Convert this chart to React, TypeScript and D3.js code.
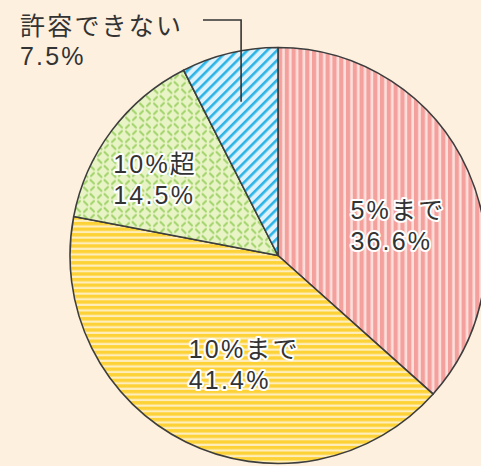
import React from "react";
import * as d3 from "d3";

const categories = ["5%まで", "10%まで", "10%超", "許容できない"];
const values = [36.6, 41.4, 14.5, 7.5];
const valueLabels = ["36.6%", "41.4%", "14.5%", "7.5%"];
const patternIds = ["pRed", "pYellow", "pGreen", "pBlue"];

const W = 481;
const H = 466;
const cx = 278;
const cy = 255.5;
const R = 208;

const FONT = "'Liberation Sans', Arial, 'Noto Sans CJK JP', sans-serif";

export default function App() {
  const pie = d3.pie<number>().sort(null).startAngle(0).endAngle(2 * Math.PI);
  const arcs = pie(values);
  const arc = d3.arc<d3.PieArcDatum<number>>().innerRadius(0).outerRadius(R);

  // label layout: radius factor and offset of text block from centroid
  const labelLayout = [
    { rf: 0.55, dx: -32, dy: 10 },
    { rf: 0.6, dx: -34, dy: -9 },
    { rf: 0.6, dx: -65, dy: -8 },
  ];

  const textStyle: React.CSSProperties = {
    fontFamily: FONT,
    fontSize: 25,
    letterSpacing: 2.2,
    fill: "#333",
  };

  const blue = arcs[3];
  const blueMid = (blue.startAngle + blue.endAngle) / 2;
  const lineR = R * 0.76;
  const lx = cx + lineR * Math.sin(blueMid);
  const ly = cy - lineR * Math.cos(blueMid);

  return (
    <svg
      width={W}
      height={H}
      style={{ position: "absolute", left: 0, top: 0, display: "block" }}
    >
      <defs>
        <pattern id="pRed" patternUnits="userSpaceOnUse" width={6.8} height={10}>
          <rect width={6.8} height={10} fill="#fde0dc" />
          <rect x={0} width={4.2} height={10} fill="#f4a19e" />
        </pattern>
        <pattern id="pYellow" patternUnits="userSpaceOnUse" width={10} height={5.6}>
          <rect width={10} height={5.6} fill="#feeebe" />
          <rect y={0} width={10} height={3.4} fill="#fdd237" />
        </pattern>
        <pattern
          id="pBlue"
          patternUnits="userSpaceOnUse"
          width={7}
          height={10}
          patternTransform="rotate(45)"
        >
          <rect width={7} height={10} fill="#dff2fc" />
          <rect x={0} width={2.6} height={10} fill="#2bb4e6" />
        </pattern>
        <pattern id="pGreen" patternUnits="userSpaceOnUse" width={14} height={14}>
          <rect width={14} height={14} fill="#e8f3c6" />
          <g stroke="#a2d36b" strokeWidth={2} strokeLinecap="round">
            <line x1={2} y1={2} x2={5.5} y2={5.5} />
            <line x1={12} y1={1.5} x2={9} y2={4.5} />
            <line x1={8.5} y1={8.5} x2={12} y2={12} />
            <line x1={5} y1={9.5} x2={2} y2={12.5} />
          </g>
        </pattern>
      </defs>
      <rect width={W} height={H} fill="#fdf0df" />
      <g transform={`translate(${cx},${cy})`}>
        {arcs.map((a, i) => (
          <path
            key={categories[i]}
            d={arc(a) || ""}
            fill={`url(#${patternIds[i]})`}
            stroke="#3d3d3d"
            strokeWidth={1.6}
            strokeLinejoin="round"
          />
        ))}
      </g>
      {arcs.slice(0, 3).map((a, i) => {
        const mid = (a.startAngle + a.endAngle) / 2;
        const r = R * labelLayout[i].rf;
        const x = cx + r * Math.sin(mid) + labelLayout[i].dx;
        const y = cy - r * Math.cos(mid) + labelLayout[i].dy;
        return (
          <text
            key={categories[i]}
            style={textStyle}
            stroke="#fff"
            strokeWidth={4}
            strokeLinejoin="round"
            paintOrder="stroke"
          >
            <tspan x={x} y={y}>{categories[i]}</tspan>
            <tspan x={x} y={y + 31}>{valueLabels[i]}</tspan>
          </text>
        );
      })}
      <polyline
        points={`${lx},${ly} ${lx},20 203,20`}
        fill="none"
        stroke="#333"
        strokeWidth={1.6}
      />
      <text style={textStyle}>
        <tspan x={20} y={35}>{categories[3]}</tspan>
        <tspan x={20} y={65}>{valueLabels[3]}</tspan>
      </text>
    </svg>
  );
}
